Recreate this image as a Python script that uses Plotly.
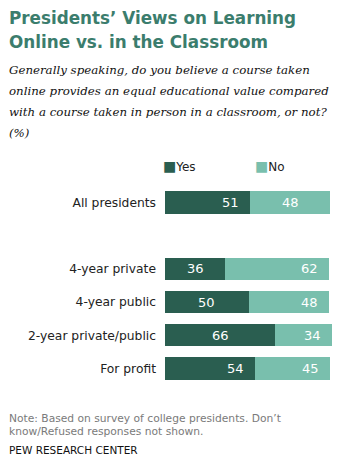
import plotly.graph_objects as go

categories = ["All presidents", " ", "4-year private", "4-year public", "2-year private/public", "For profit"]
yes_vals = [51, None, 36, 50, 66, 54]
no_vals = [48, None, 62, 48, 34, 45]
yes_anchor = ["end", None, "middle", "middle", "middle", "end"]
no_anchor = ["middle", None, "end", "end", "end", "end"]
series_names = ["Yes", "No"]
colors = ["#2A5E50", "#79BFAD"]

title_lines = ["Presidents\u2019 Views on Learning", "Online vs. in the Classroom"]
sub_lines = ["Generally speaking, do you believe a course taken",
             "online provides an equal educational value compared",
             "with a course taken in person in a classroom, or not?",
             "(%)"]
note_lines = ["Note: Based on survey of college presidents. Don\u2019t",
              "know/Refused responses not shown."]
source = "PEW RESEARCH CENTER"

W, H = 346, 465
L, R, T, B = 165, 14, 186, 80
PW = W - L - R
PH = H - T - B

def px(xp):
    return (xp - L) / PW

def py(yp):
    return (H - B - yp) / PH

fig = go.Figure()
fig.add_trace(go.Bar(y=categories, x=yes_vals, orientation="h", name=series_names[0],
                     marker=dict(color=colors[0], line=dict(width=0)), showlegend=False))
fig.add_trace(go.Bar(y=categories, x=no_vals, orientation="h", name=series_names[1],
                     marker=dict(color=colors[1], line=dict(width=0)), showlegend=False))

ann = []
lab_font = dict(family="DejaVu Sans", size=13, color="white")
for c, yv, nv, ya, na in zip(categories, yes_vals, no_vals, yes_anchor, no_anchor):
    if yv is None:
        continue
    if ya == "end":
        ann.append(dict(x=yv, y=c, xref="x", yref="y", text=str(yv), showarrow=False,
                        xanchor="right", xshift=-9, font=lab_font))
    else:
        ann.append(dict(x=yv / 2, y=c, xref="x", yref="y", text=str(yv), showarrow=False,
                        xanchor="center", font=lab_font))
    if na == "end":
        ann.append(dict(x=yv + nv, y=c, xref="x", yref="y", text=str(nv), showarrow=False,
                        xanchor="right", xshift=-9, font=lab_font))
    else:
        ann.append(dict(x=yv + nv / 2, y=c, xref="x", yref="y", text=str(nv), showarrow=False,
                        xanchor="center", font=lab_font))

# legend
for name, col, xp in zip(series_names, colors, [161, 253]):
    ann.append(dict(x=px(xp), y=py(166), xref="paper", yref="paper", xanchor="left", yanchor="middle",
                    text=f'<span style="color:{col};font-size:14px">\u25A0</span>{name}', showarrow=False,
                    font=dict(family="DejaVu Sans", size=12, color="#222")))

# title
for i, t in enumerate(title_lines):
    ann.append(dict(x=px(7), y=py(6 + 24 * i), xref="paper", yref="paper", xanchor="left", yanchor="top",
                    text=f"<b>{t}</b>", showarrow=False,
                    font=dict(family="DejaVu Sans", size=16.8, color="#3B7D6D")))
for i, t in enumerate(sub_lines):
    ann.append(dict(x=px(7), y=py(61 + 21 * i), xref="paper", yref="paper", xanchor="left", yanchor="top",
                    text=f"<i>{t}</i>", showarrow=False,
                    font=dict(family="DejaVu Serif", size=11.8, color="#111")))
for i, t in enumerate(note_lines):
    ann.append(dict(x=px(7), y=py(410 + 13 * i), xref="paper", yref="paper", xanchor="left", yanchor="top",
                    text=t, showarrow=False,
                    font=dict(family="DejaVu Sans", size=10.7, color="#7a7a7a")))
ann.append(dict(x=px(7), y=py(442), xref="paper", yref="paper", xanchor="left", yanchor="top",
                text=source, showarrow=False,
                font=dict(family="DejaVu Sans", size=10.5, color="#111")))

fig.update_layout(
    width=W, height=H,
    margin=dict(l=L, r=R, t=T, b=B, pad=0),
    barmode="stack", bargap=0.33,
    plot_bgcolor="white", paper_bgcolor="white",
    xaxis=dict(range=[0, 100], visible=False, fixedrange=True),
    yaxis=dict(autorange="reversed", showgrid=False, zeroline=False, showline=False,
               ticks="", ticklabelstandoff=8,
               tickfont=dict(family="DejaVu Sans", size=12.3, color="#222")),
    annotations=ann,
    showlegend=False,
)
fig.write_html("out.html")
